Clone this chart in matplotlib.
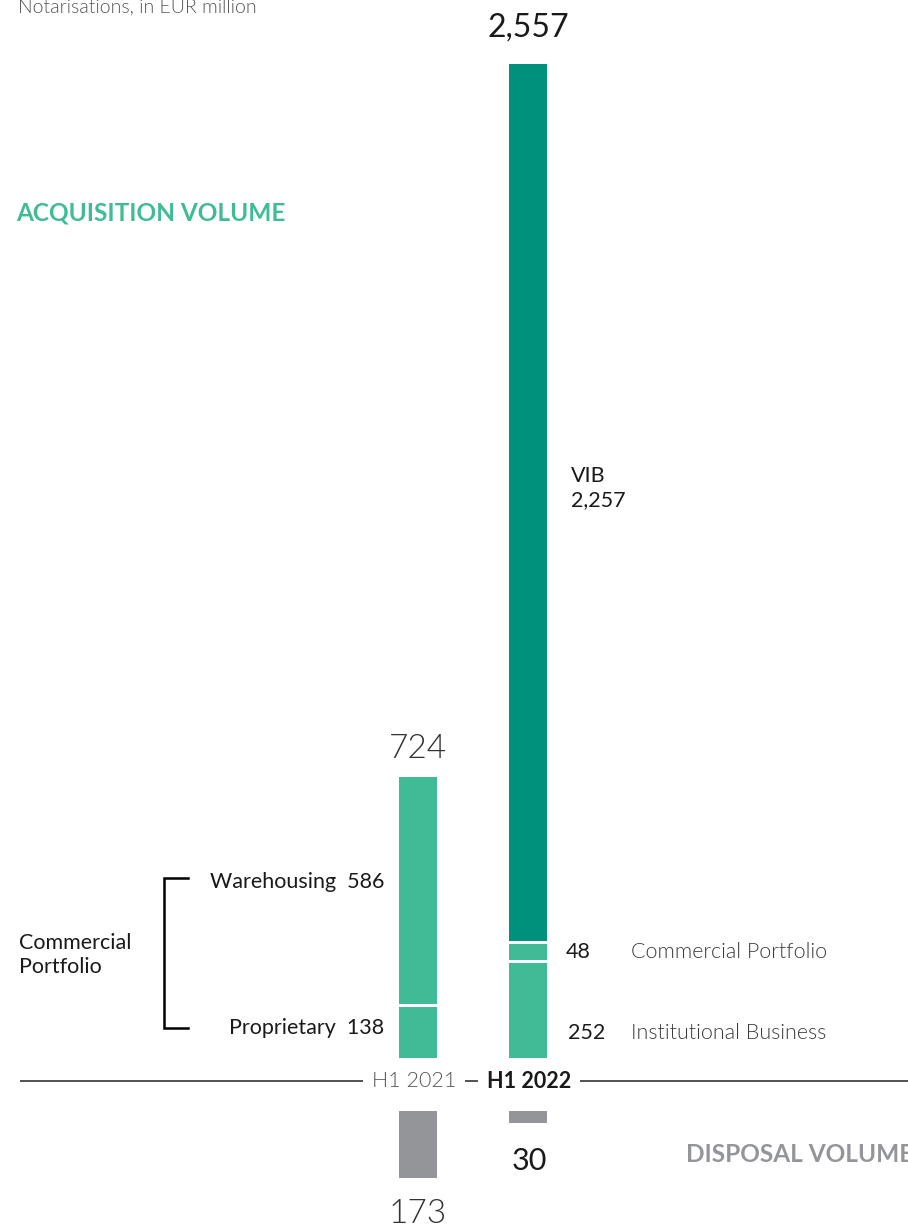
import matplotlib
matplotlib.use("Agg")
import matplotlib.pyplot as plt
import numpy as np

plt.rcParams["font.family"] = ["Lato", "DejaVu Sans"]

PERIODS = ["H1 2021", "H1 2022"]
# acquisition segments, bottom to top
SEG_2021 = [138, 586]           # Proprietary, Warehousing
SEG_2022 = [252, 48, 2257]      # Institutional Business, Commercial Portfolio, VIB
TOTALS = [724, 2557]
DISPOSAL = [173, 30]

GREEN = "#3fbc96"
TEAL = "#00917c"
GREY = "#939598"
DARK = "#1a1a1a"
LIGHT_TXT = "#3a3a3a"
LW = 300              # Lato Light

W, H = 908, 1224
K = 0.3887            # pixels per EUR million
ZERO_PX = 1081        # pixel row of the axis line
UP_OFF = 23 / K       # gap between line and acquisition bars
DOWN_OFF = 30 / K     # gap between line and disposal bars
GAP = 5 / K           # white gap between stacked segments

fig = plt.figure(figsize=(W / 100, H / 100), dpi=100)
ax = fig.add_axes([0, 0, 1, 1])
ax.set_xlim(0, W)
ax.set_ylim(-(H - ZERO_PX) / K, ZERO_PX / K)
ax.axis("off")

xpos = [418, 528]
bw = 38


def py(p):
    # pixel row -> data y
    return (ZERO_PX - p) / K


# stacked acquisition bars
cols_2021 = [GREEN, GREEN]
cols_2022 = [GREEN, GREEN, TEAL]
for x, segs, cols in [(xpos[0], SEG_2021, cols_2021), (xpos[1], SEG_2022, cols_2022)]:
    bottom = UP_OFF
    for i, (v, c) in enumerate(zip(segs, cols)):
        ax.bar(x, v, bw, bottom=bottom, color=c, linewidth=0)
        bottom += v
        if i < len(segs) - 1:
            ax.bar(x, GAP, bw + 2, bottom=bottom - GAP / 2, color="white", linewidth=0)

# disposal bars (downwards)
for x, v in zip(xpos, DISPOSAL):
    ax.bar(x, -v, bw, bottom=-DOWN_OFF, color=GREY, linewidth=0)

# axis line with period labels
ax.hlines(0, 20, W, color="#333333", linewidth=1.2)
ax.text(xpos[0] - 4, 0, PERIODS[0], ha="center", va="center", fontsize=15.5,
        fontweight=LW, color="#555555",
        bbox=dict(facecolor="white", edgecolor="none", pad=6))
ax.text(xpos[1] + 1, 0, PERIODS[1], ha="center", va="center", fontsize=15.5,
        fontweight="bold", color=DARK,
        bbox=dict(facecolor="white", edgecolor="none", pad=6))

# totals
ax.text(xpos[1], UP_OFF + TOTALS[1] + 22 / K, f"{TOTALS[1]:,}", ha="center", va="bottom",
        fontsize=23, color=DARK)
ax.text(xpos[0], UP_OFF + TOTALS[0] + 13 / K, f"{TOTALS[0]:,}", ha="center", va="bottom",
        fontsize=24, fontweight=LW, color="#333333")
ax.text(xpos[0], -DOWN_OFF - DISPOSAL[0] - 21 / K, f"{DISPOSAL[0]}", ha="center", va="top",
        fontsize=24, fontweight=LW, color="#333333")
ax.text(xpos[1] + 1, -DOWN_OFF - DISPOSAL[1] - 24 / K, f"{DISPOSAL[1]}", ha="center", va="top",
        fontsize=22, color=DARK)

# headings
ax.text(18, py(13), "Notarisations, in EUR million", ha="left", va="baseline",
        fontsize=14, fontweight=LW, color="#555555")
ax.text(16, py(213), "ACQUISITION VOLUME", ha="left", va="center",
        fontsize=17.6, fontweight="bold", color=GREEN)
ax.text(686, py(1155), "DISPOSAL VOLUME", ha="left", va="center",
        fontsize=17.6, fontweight="bold", color=GREY)

# H1 2022 segment labels
FS = 15.5
ax.text(571, py(476), "VIB", ha="left", va="center", fontsize=FS, color=DARK)
ax.text(571, py(500), f"{SEG_2022[2]:,}", ha="left", va="center", fontsize=FS, color=DARK)
ax.text(566, py(952), f"{SEG_2022[1]}", ha="left", va="center", fontsize=FS, color=DARK)
ax.text(631, py(952), "Commercial Portfolio", ha="left", va="center", fontsize=FS,
        fontweight=LW, color=LIGHT_TXT)
ax.text(568, py(1033), f"{SEG_2022[0]}", ha="left", va="center", fontsize=FS, color=DARK)
ax.text(631, py(1033), "Institutional Business", ha="left", va="center", fontsize=FS,
        fontweight=LW, color=LIGHT_TXT)

# H1 2021 segment labels
ax.text(384, py(882), f"Warehousing  {SEG_2021[1]}", ha="right", va="center",
        fontsize=FS, color=DARK)
ax.text(384, py(1028), f"Proprietary  {SEG_2021[0]}", ha="right", va="center",
        fontsize=FS, color=DARK)
ax.text(19, py(955), "Commercial\nPortfolio", ha="left", va="center",
        fontsize=FS, color=DARK, linespacing=1.28)

# bracket
ax.plot([188, 164, 164, 188], [py(878), py(878), py(1028), py(1028)],
        color="black", linewidth=1.8, solid_joinstyle="miter")

fig.savefig("out.png", dpi=100)
